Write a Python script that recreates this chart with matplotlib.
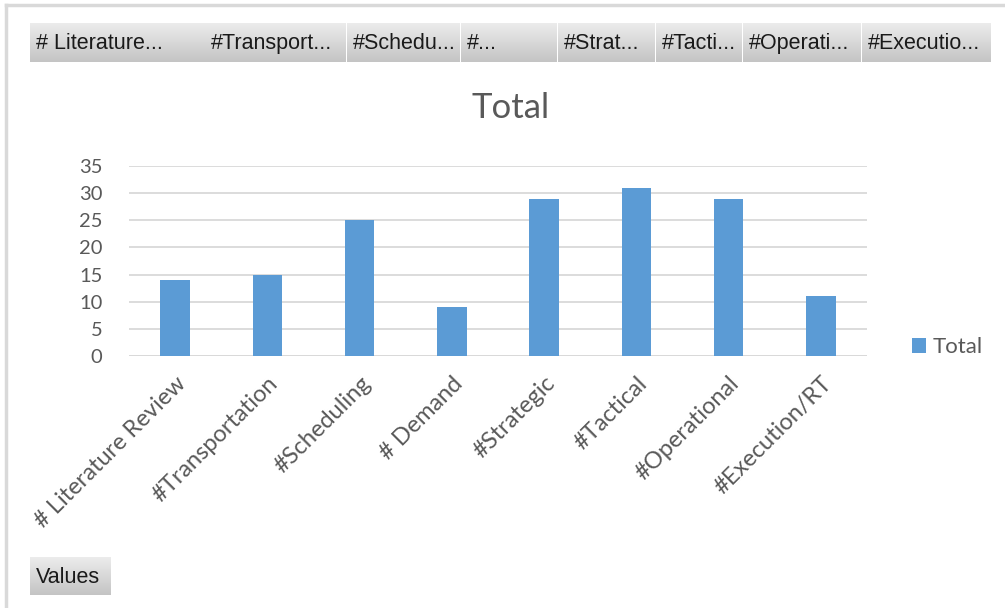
import numpy as np
import matplotlib.pyplot as plt
from matplotlib.colors import LinearSegmentedColormap

categories = ["# Literature Review", "#Transportation", "#Scheduling", "# Demand",
              "#Strategic", "#Tactical", "#Operational", "#Execution/RT"]
totals = [14, 15, 25, 9, 29, 31, 29, 11]
button_labels = ["# Literature...", "#Transport...", "#Schedu...", "#...",
                 "#Strat...", "#Tacti...", "#Operati...", "#Executio..."]
button_edges = [30, 205, 347, 461, 558, 656, 743, 862, 992]

W, H = 1005, 608
fig = plt.figure(figsize=(W / 100, H / 100), dpi=100)
fig.patch.set_facecolor("white")

txt_gray = "#595959"
font = ["Lato", "DejaVu Sans"]

# chart frame (only left and top visible)
fig.add_artist(plt.Line2D([6 / W, 6 / W], [0, 1 - 5 / H], color="#d9d9d9", lw=2.5))
fig.add_artist(plt.Line2D([6 / W, 1], [1 - 5 / H, 1 - 5 / H], color="#d9d9d9", lw=2.5))

# field buttons with gradient
btn_cmap = LinearSegmentedColormap.from_list("btn", ["#ececec", "#c4c4c4"])
grad = np.linspace(0, 1, 64).reshape(-1, 1)

def button(x0, x1, y0, y1, label):
    bax = fig.add_axes([x0 / W, 1 - y1 / H, (x1 - x0) / W, (y1 - y0) / H])
    bax.imshow(grad, aspect="auto", cmap=btn_cmap, extent=[0, 1, 0, 1], origin="upper")
    bax.set_xlim(0, 1)
    bax.set_ylim(0, 1)
    bax.axis("off")
    bax.text(6 / (x1 - x0), 0.47, label, ha="left", va="center", fontsize=15.5,
             color="#1a1a1a", family=["Liberation Sans", "DejaVu Sans"])

for i, lab in enumerate(button_labels):
    button(button_edges[i], button_edges[i + 1] - 1, 23, 62, lab)
button(30, 110, 557, 595, "Values")

# main plot
ax = fig.add_axes([129 / W, 1 - 356 / H, 738 / W, 190 / H])
x = np.arange(len(categories))
ax.bar(x, totals, width=0.32, color="#5b9bd5", label="Total", zorder=3)
ax.set_xlim(-0.5, len(categories) - 0.5)
ax.set_ylim(0, 35)
ax.set_yticks(range(0, 36, 5))
ax.yaxis.grid(True, color="#d9d9d9", lw=1.3, zorder=0)
ax.tick_params(axis="y", length=0, labelsize=14.5, labelcolor=txt_gray, pad=19)
for lbl in ax.get_yticklabels():
    lbl.set_family(font)
for s in ax.spines.values():
    s.set_visible(False)
ax.axhline(0, color="#d9d9d9", lw=1.3, zorder=1)
ax.set_xticks(x)
ax.set_xticklabels(categories, rotation=45, ha="right", rotation_mode="anchor",
                   fontsize=17, color=txt_gray, family=font)
ax.tick_params(axis="x", length=0, pad=12)

fig.text(511 / W, 1 - 108 / H, "Total", ha="center", va="center", fontsize=25,
         color=txt_gray, family=font)

leg = fig.legend(loc="center left", bbox_to_anchor=(892 / W, 1 - 347 / H), frameon=False,
                 handlelength=0.65, handleheight=0.65, handletextpad=0.3,
                 prop={"family": font, "size": 16})
for t in leg.get_texts():
    t.set_color(txt_gray)

fig.savefig("out.png", dpi=100)
